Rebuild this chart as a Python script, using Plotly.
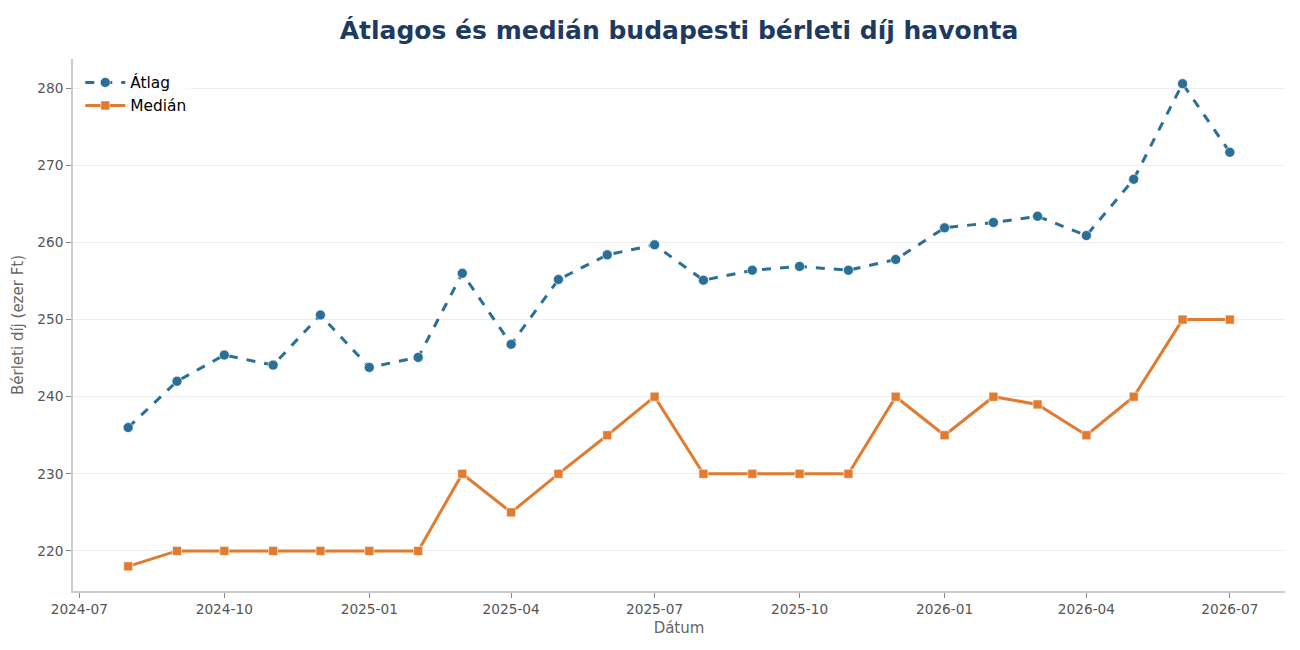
import plotly.graph_objects as go

dates = ['2024-08-01', '2024-09-01', '2024-10-01', '2024-11-01', '2024-12-01',
         '2025-01-01', '2025-02-01', '2025-03-01', '2025-04-01', '2025-05-01',
         '2025-06-01', '2025-07-01', '2025-08-01', '2025-09-01', '2025-10-01',
         '2025-11-01', '2025-12-01', '2026-01-01', '2026-02-01', '2026-03-01',
         '2026-04-01', '2026-05-01', '2026-06-01', '2026-07-01']
atlag = [236.0, 242.0, 245.4, 244.1, 250.6, 243.8, 245.1, 256.0, 246.8, 255.2,
         258.4, 259.7, 255.1, 256.4, 256.9, 256.4, 257.8, 261.9, 262.6, 263.4,
         260.9, 268.2, 280.6, 271.7]
median = [218, 220, 220, 220, 220, 220, 220, 230, 225, 230,
          235, 240, 230, 230, 230, 230, 240, 235, 240, 239,
          235, 240, 250, 250]

blue = '#2a6f97'
orange = '#e07b2f'
font = 'DejaVu Sans'

fig = go.Figure()
fig.add_trace(go.Scatter(x=dates, y=atlag, name='Átlag', mode='lines+markers',
                         line=dict(color=blue, width=3, dash='dash'),
                         marker=dict(symbol='circle', size=10, color=blue,
                                     line=dict(color='rgba(255,255,255,0.6)', width=1))))
fig.add_trace(go.Scatter(x=dates, y=median, name='Medián', mode='lines+markers',
                         line=dict(color=orange, width=3),
                         marker=dict(symbol='square', size=9, color=orange,
                                     line=dict(color='rgba(255,255,255,0.6)', width=1))))

# page has 8px body margin, so the figure is a bit smaller than the window
fig.update_layout(
    width=1284, height=634,
    paper_bgcolor='white', plot_bgcolor='white',
    font=dict(family=font, size=13.7, color='#555555'),
    title=dict(text='<b>Átlagos és medián budapesti bérleti díj havonta</b>',
               x=0.5226, xanchor='center', y=0.965, yanchor='middle',
               font=dict(size=25, color='#1f3a5f', family=font)),
    margin=dict(l=65, r=7, t=51, b=51),
    showlegend=True,
    legend=dict(x=0.006, y=0.987, xanchor='left', yanchor='top',
                bgcolor='rgba(255,255,255,0.8)',
                font=dict(size=15.4, color='black', family=font),
                tracegroupgap=0, itemwidth=40),
)
fig.update_xaxes(
    title=dict(text='Dátum', font=dict(size=15, color='#666666'), standoff=6),
    type='date', range=['2024-06-27', '2026-08-05'],
    tick0='2024-07-01', dtick='M3', tickformat='%Y-%m',
    showgrid=False, showline=True, linecolor='#cccccc', linewidth=1.5,
    ticks='outside', ticklen=5, tickcolor='#888888', zeroline=False,
)
fig.update_yaxes(
    title=dict(text='Bérleti díj (ezer Ft)', font=dict(size=15, color='#666666'), standoff=10),
    range=[214.8, 283.8], dtick=10,
    showgrid=True, gridcolor='#eeeeee', gridwidth=1,
    showline=True, linecolor='#cccccc', linewidth=1.5,
    ticks='outside', ticklen=5, tickcolor='#888888', zeroline=False,
)

fig.write_html('out.html')
